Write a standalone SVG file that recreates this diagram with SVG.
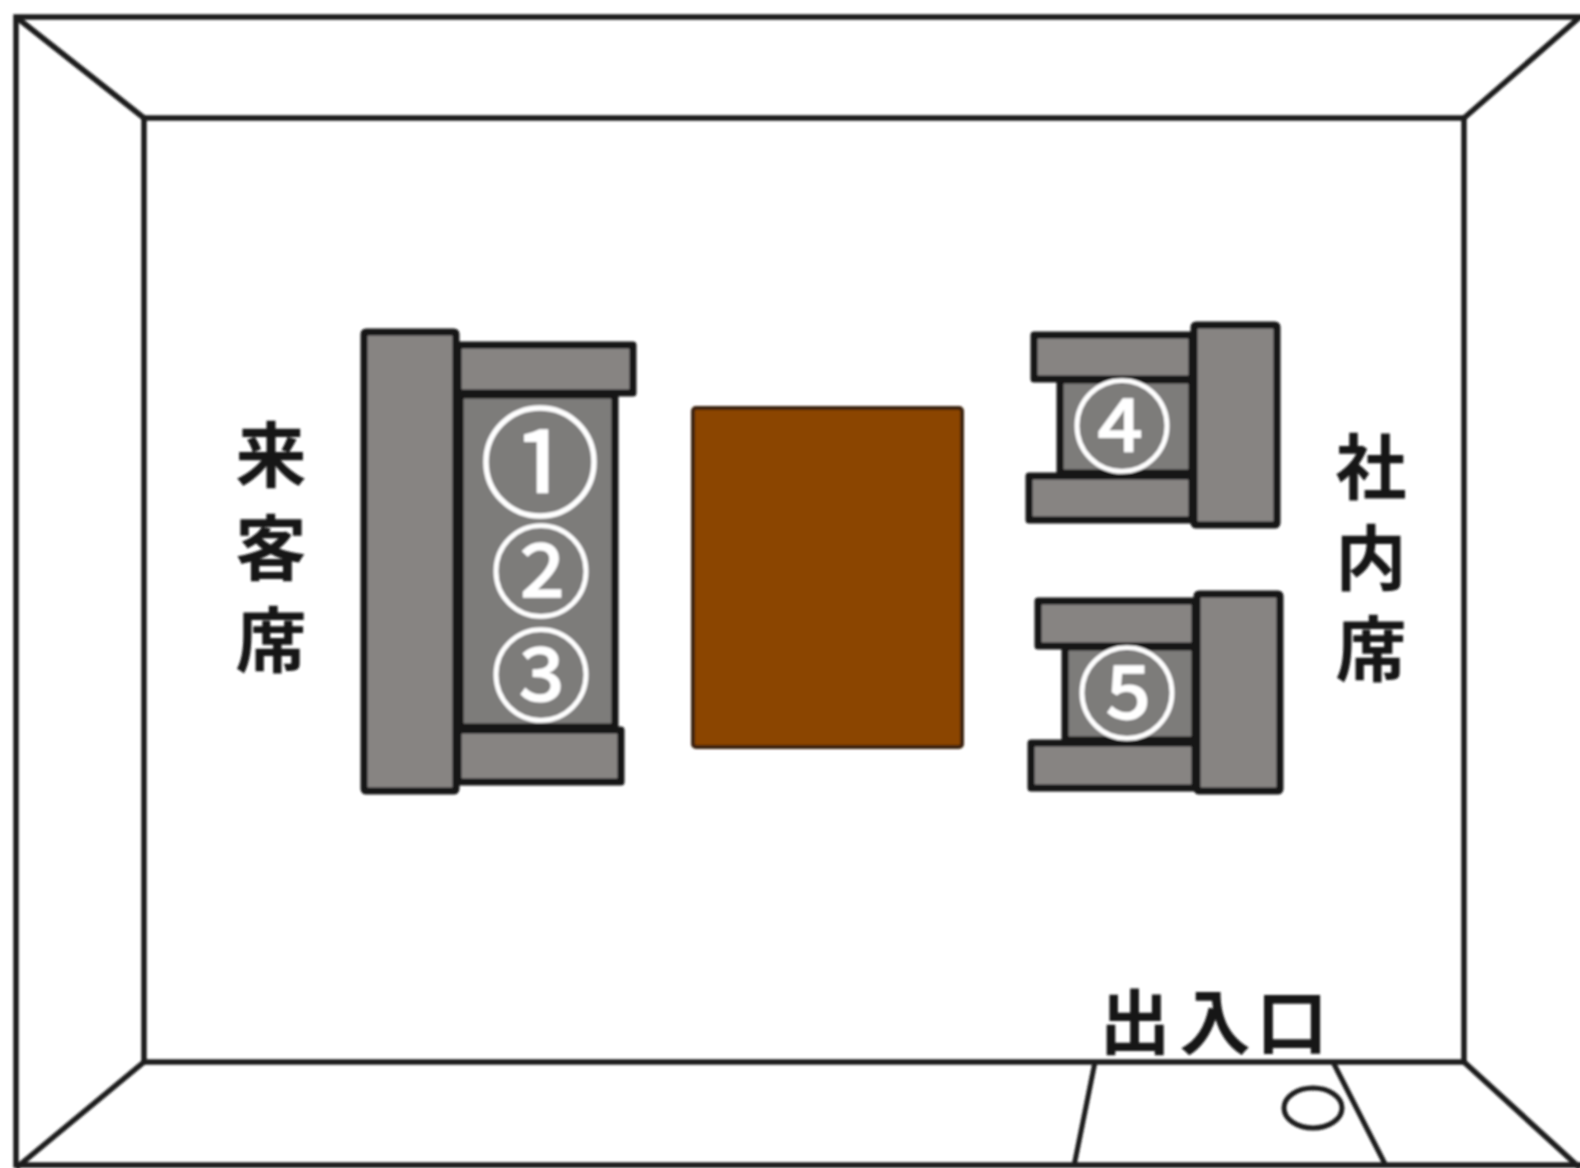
<svg xmlns="http://www.w3.org/2000/svg" width="1580" height="1168" viewBox="0 0 1580 1168">
<defs>
<style>
.wall{fill:none;stroke:#1c1c1c;stroke-width:5.5}
.thin{fill:none;stroke:#1c1c1c;stroke-width:5}
.sofa{fill:#878482;stroke:#141414;stroke-width:7;stroke-linejoin:round}
.seat{fill:#7d7b7a;stroke:#141414;stroke-width:7}
.lbl{font-family:"Noto Sans CJK JP","Noto Sans CJK SC",sans-serif;font-weight:700;font-size:71px;fill:#141414;text-anchor:middle;dominant-baseline:central}
.num{font-family:"Noto Sans CJK JP","Noto Sans CJK SC",sans-serif;font-weight:400;fill:#fff;stroke:#fff;stroke-width:1.6;text-anchor:middle;dominant-baseline:central}
</style>
<filter id="soft" x="-2%" y="-2%" width="104%" height="104%"><feGaussianBlur stdDeviation="1.1"/></filter>
</defs>
<rect width="1580" height="1168" fill="#fff"/>
<g filter="url(#soft)">
<g id="room">
<rect class="wall" x="16" y="17" width="1575" height="1148"/>
<rect class="wall" x="144" y="118" width="1320" height="944"/>
<path class="wall" d="M16 17L144 118M1580 17L1464 118M16 1168L144 1062M1580 1168L1464 1062"/>
</g>
<g id="door">
<path class="thin" d="M1095 1062L1074 1166M1333 1062L1386 1166"/>
<ellipse class="thin" cx="1313" cy="1108" rx="29" ry="20"/>
</g>
<g id="table"><rect x="693" y="408" width="269" height="339" rx="3" fill="#8b4500" stroke="#3a2008" stroke-width="4"/></g>
<g id="sofa-guest">
<rect class="seat" x="460" y="395" width="155" height="332"/>
<rect class="sofa" x="458" y="345" width="175" height="48"/>
<rect class="sofa" x="458" y="730" width="163" height="52"/>
<rect class="sofa" x="364" y="332" width="92" height="459" rx="2"/>
<text class="num" x="540" y="456" font-size="120">①</text>
<text class="num" x="541" y="565" font-size="100">②</text>
<text class="num" x="541" y="669" font-size="100">③</text>
</g>
<g id="chair-4">
<rect class="seat" x="1060" y="380" width="132" height="93"/>
<rect class="sofa" x="1034" y="335" width="158" height="44"/>
<rect class="sofa" x="1029" y="476" width="163" height="44"/>
<rect class="sofa" x="1194" y="325" width="83" height="200" rx="2"/>
<text class="num" x="1122" y="420" font-size="100">④</text>
</g>
<g id="chair-5">
<rect class="seat" x="1065" y="647" width="130" height="93"/>
<rect class="sofa" x="1038" y="601" width="157" height="45"/>
<rect class="sofa" x="1031" y="743" width="164" height="45"/>
<rect class="sofa" x="1197" y="594" width="83" height="197" rx="2"/>
<text class="num" x="1127" y="687" font-size="100">⑤</text>
</g>
<g id="labels">
<text class="lbl" x="271" y="450">来</text>
<text class="lbl" x="271" y="543">客</text>
<text class="lbl" x="271" y="635">席</text>
<text class="lbl" x="1371" y="462">社</text>
<text class="lbl" x="1371" y="553">内</text>
<text class="lbl" x="1371" y="644">席</text>
<text class="lbl" x="1135" y="1017">出</text>
<text class="lbl" x="1215" y="1017">入</text>
<text class="lbl" x="1292" y="1017">口</text>
</g>
</g>
</svg>
